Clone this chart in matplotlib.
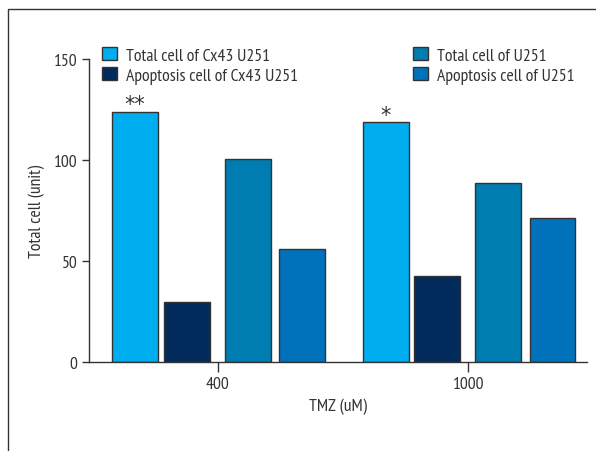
import matplotlib
matplotlib.use("Agg")
import matplotlib.pyplot as plt
from matplotlib.patches import Rectangle
from matplotlib.textpath import TextPath
from matplotlib.font_manager import FontProperties
import numpy as np

FONT = ['PT Sans Narrow', 'DejaVu Sans']
plt.rcParams['font.family'] = FONT

groups = ['400', '1000']
series = ['Total cell of Cx43 U251', 'Apoptosis cell of Cx43 U251',
          'Total cell of U251', 'Apoptosis cell of U251']
total_cx43 = [124, 119]
apop_cx43 = [29.5, 42.5]
total_u251 = [100.5, 88.5]
apop_u251 = [56, 71.5]
values = [total_cx43, apop_cx43, total_u251, apop_u251]
colors = ['#00AEEF', '#002B5C', '#007DB0', '#0072BC']
stars = ['**', '*']

W, H = 596, 452
fig = plt.figure(figsize=(W / 100, H / 100), dpi=100)
ax = fig.add_axes([89 / W, 1 - 363 / H, (587 - 89) / W, (363 - 60) / H])

# outer frame
fig.patches.append(Rectangle((8 / W, -0.1), 1.2, 1 - 10 / H + 0.1, transform=fig.transFigure,
                             fill=False, edgecolor='#333333', linewidth=1.0))

x = np.arange(len(groups))
offsets = [-0.33, -0.124, 0.12, 0.336]
width = 0.183
handles = []
for vals, off, col, lab in zip(values, offsets, colors, series):
    b = ax.bar(x + off, vals, width=width, color=col, edgecolor='#333333', linewidth=1.0, label=lab)
    handles.append(b)

# significance stars: ink bottom ~7 px above the bar top
STAR_FONT = 'DejaVu Sans'
star_fs = 15
ink = TextPath((0, 0), '*', prop=FontProperties(family=STAR_FONT, size=star_fs)).get_extents()
off_pts = 7 * 0.72 - ink.y0
for xi, v, s in zip(x, total_cx43, stars):
    ax.annotate(s, xy=(xi + offsets[0], v), xytext=(0, off_pts), textcoords='offset points',
                ha='center', va='baseline', fontsize=star_fs, color='#333333', family=STAR_FONT)

ax.set_xlim(-0.514, 1.474)
ax.set_ylim(0, 150)
ax.set_xticks(x)
ax.set_xticklabels(groups)
ax.set_yticks([0, 50, 100, 150])
for s in ['top', 'right']:
    ax.spines[s].set_visible(False)
for s in ['left', 'bottom']:
    ax.spines[s].set_color('#333333')
    ax.spines[s].set_linewidth(1.0)
ax.tick_params(axis='x', length=7.2, width=1, color='#333333', labelsize=12.7, labelcolor='#333333', pad=3)
ax.tick_params(axis='y', length=5, width=1, color='#333333', labelsize=12.7, labelcolor='#333333', pad=3.5)
ax.set_xlabel('TMZ (uM)', fontsize=12.7, color='#333333', labelpad=4)
ax.set_ylabel('Total cell (unit)', fontsize=12.7, color='#333333', labelpad=6)

leg_kw = dict(loc='upper left', bbox_transform=fig.transFigure, frameon=False, fontsize=12.7,
              handlelength=0.85, handleheight=0.8, handletextpad=0.5, labelspacing=0.17,
              borderaxespad=0, borderpad=0)
leg1 = ax.legend(handles[:2], series[:2], bbox_to_anchor=(102 / W, 1 - 48 / H), **leg_kw)
ax.add_artist(leg1)
leg2 = ax.legend(handles[2:], series[2:], bbox_to_anchor=(413 / W, 1 - 48 / H), **leg_kw)
for lg in (leg1, leg2):
    for t in lg.get_texts():
        t.set_color('#333333')

fig.savefig('out.png', dpi=100)
